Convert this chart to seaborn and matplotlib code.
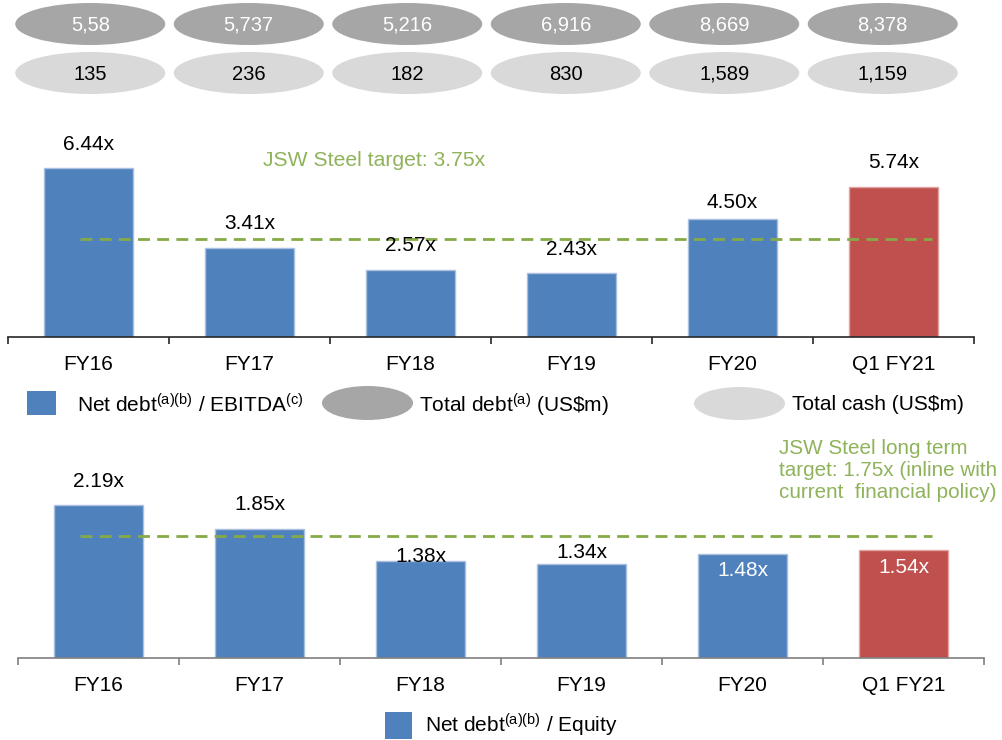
import matplotlib
matplotlib.use("Agg")
import matplotlib.pyplot as plt
from matplotlib.patches import Ellipse, Rectangle
import seaborn as sns
import pandas as pd

# ---- data ----
periods = ["FY16", "FY17", "FY18", "FY19", "FY20", "Q1 FY21"]
net_debt_ebitda = [6.44, 3.41, 2.57, 2.43, 4.50, 5.74]
net_debt_equity = [2.19, 1.85, 1.38, 1.34, 1.48, 1.54]
total_debt_labels = ["5,58", "5,737", "5,216", "6,916", "8,669", "8,378"]
total_cash_labels = ["135", "236", "182", "830", "1,589", "1,159"]
ebitda_target = 3.75
equity_target = 1.75

# ---- styles ----
BLUE, RED = "#4F81BD", "#C0504D"
BLUE_EDGE, RED_EDGE = "#A9C1DF", "#E0A5A3"
GREEN_TEXT, GREEN_LINE = "#8FB35A", "#86AA48"
DEBT_GREY, CASH_GREY = "#A6A6A6", "#D9D9D9"
bar_colors = [BLUE] * 5 + [RED]
edge_colors = [BLUE_EDGE] * 5 + [RED_EDGE]

sns.set_theme(style="white")
plt.rcParams["font.family"] = ["Liberation Sans", "DejaVu Sans"]
plt.rcParams["text.color"] = "black"

W, H = 1002, 740
fig = plt.figure(figsize=(W / 100, H / 100), dpi=100)


def px_axes(left, top, width, height, **kw):
    return fig.add_axes([left / W, 1 - (top + height) / H, width / W, height / H], **kw)


def bar_panel(ax, values, ymax, offsets_px, label_colors, spine_color):
    df = pd.DataFrame({"period": periods, "value": values})
    sns.barplot(data=df, x="period", y="value", hue="period", palette=bar_colors,
                legend=False, width=0.55, saturation=1, ax=ax, linewidth=1)
    for patch, ec in zip(ax.patches, edge_colors):
        patch.set_edgecolor(ec)
    ax.set_xlim(-0.5, len(periods) - 0.5)
    ax.set_ylim(0, ymax)
    for side in ("left", "right", "top"):
        ax.spines[side].set_visible(False)
    ax.spines["bottom"].set_color(spine_color)
    ax.spines["bottom"].set_linewidth(1.2)
    ax.set_yticks([])
    ax.set_xlabel("")
    ax.set_ylabel("")
    ax.set_xticks(range(len(periods)))
    ax.set_xticklabels(periods, fontsize=15, color="black")
    ax.tick_params(axis="x", which="major", length=0, pad=13)
    ax.set_xticks([i - 0.5 for i in range(len(periods) + 1)], minor=True)
    ax.tick_params(axis="x", which="minor", bottom=True, length=5, width=1.2,
                   color=spine_color, direction="out")
    for i, (v, off, c) in enumerate(zip(values, offsets_px, label_colors)):
        ax.annotate(f"{v:.2f}x", (i, v), xytext=(0, off * 0.72), textcoords="offset points",
                    ha="center", va="center", fontsize=15, color=c, zorder=6)


# ---- total debt / total cash bubbles ----
ax_e = px_axes(11, 0, 951, 100)
ax_e.set_xlim(-0.5, len(periods) - 0.5)
ax_e.set_ylim(100, 0)
ax_e.axis("off")
ell_w = 150 / (951 / len(periods))
for i, (d, c) in enumerate(zip(total_debt_labels, total_cash_labels)):
    ax_e.add_patch(Ellipse((i, 24), ell_w, 42, facecolor=DEBT_GREY, edgecolor="none"))
    ax_e.text(i, 25, d, ha="center", va="center", fontsize=14.5, color="white")
    ax_e.add_patch(Ellipse((i, 73), ell_w, 42, facecolor=CASH_GREY, edgecolor="none"))
    ax_e.text(i, 74, c, ha="center", va="center", fontsize=14.5, color="black")

# ---- net debt / EBITDA ----
ax1 = px_axes(8, 130, 966, 207)
bar_panel(ax1, net_debt_ebitda, 207 / 26.2, [24, 24, 24, 24, 17, 24],
          ["black"] * 6, "#262626")
ax1.axhline(ebitda_target, xmin=(80 - 8) / 966, xmax=(932 - 8) / 966,
            color=GREEN_LINE, lw=2, dashes=(4.3, 2.6), zorder=5)

# ---- net debt / equity ----
ax2 = px_axes(18, 469, 966, 189)
bar_panel(ax2, net_debt_equity, 189 / 70.0, [23, 24, 5, 12, -16, -17],
          ["black"] * 4 + ["white"] * 2, "#7F7F7F")
ax2.axhline(equity_target, xmin=(80 - 18) / 966, xmax=(932 - 18) / 966,
            color=GREEN_LINE, lw=2, dashes=(4.3, 2.6), zorder=5)

# ---- annotations and legends ----
ov = fig.add_axes([0, 0, 1, 1], zorder=10)
ov.set_xlim(0, W)
ov.set_ylim(H, 0)
ov.axis("off")

ov.text(263, 160, "JSW Steel target: 3.75x", ha="left", va="center",
        fontsize=15.2, color=GREEN_TEXT)
ov.text(779, 439, "JSW Steel long term\ntarget: 1.75x (inline with\ncurrent  financial policy)",
        ha="left", va="top", fontsize=14.9, color=GREEN_TEXT, linespacing=1.2)

ov.add_patch(Rectangle((27, 391), 29, 24, facecolor=BLUE, edgecolor="none"))
ov.text(77, 405, r"Net debt$\mathregular{^{(a)(b)}}$ / EBITDA$\mathregular{^{(c)}}$",
        ha="left", va="center", fontsize=15)
ov.add_patch(Ellipse((367.5, 403), 91, 34, facecolor=DEBT_GREY, edgecolor="none"))
ov.text(419, 405, r"Total debt$\mathregular{^{(a)}}$ (US\$m)",
        ha="left", va="center", fontsize=15)
ov.add_patch(Ellipse((739.5, 403.5), 91, 33, facecolor=CASH_GREY, edgecolor="none"))
ov.text(792, 405, r"Total cash (US\$m)", ha="left", va="center", fontsize=15)

ov.add_patch(Rectangle((385, 712), 27, 27, facecolor=BLUE, edgecolor="none"))
ov.text(425, 725, r"Net debt$\mathregular{^{(a)(b)}}$ / Equity",
        ha="left", va="center", fontsize=15)

fig.savefig("out.png", dpi=100)
